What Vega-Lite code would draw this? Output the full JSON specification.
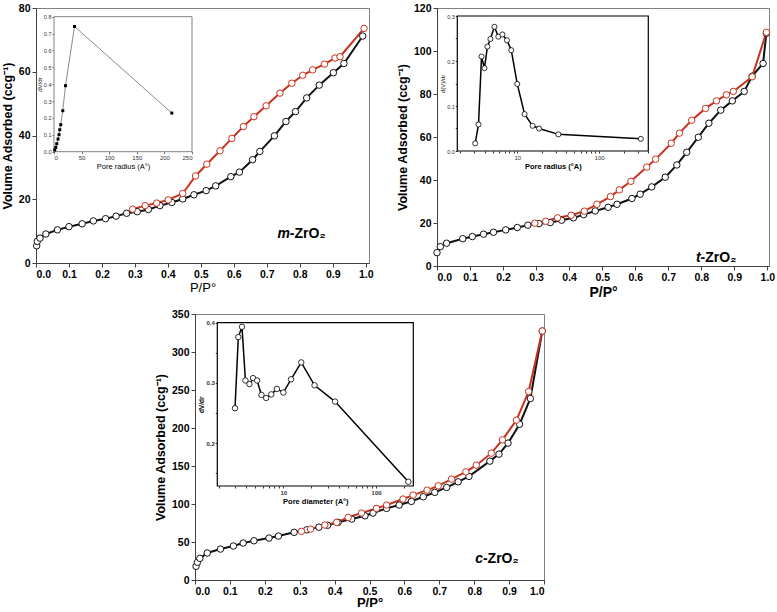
{
"$schema": "https://vega.github.io/schema/vega-lite/v6.json",
"padding": {"left": 0, "top": 2, "right": 0, "bottom": 0},
"background": "white",
"config": {
  "font": "Liberation Sans",
  "view": {"stroke": "#808080", "strokeWidth": 1},
  "axis": {"grid": false, "labelColor": "black", "titleColor": "black", "domainColor": "#404040", "tickColor": "#404040", "labelFontWeight": "bold", "labelFontSize": 10.5, "tickSize": 4, "labelPadding": 2, "labelOverlap": false}
},
"datasets": {
  "m_iso": [
    {"x":0.002,"y":5.4,"b":"ads"},{"x":0.004,"y":6.8,"b":"ads"},{"x":0.012,"y":7.8,"b":"ads"},{"x":0.030,"y":9.1,"b":"ads"},{"x":0.065,"y":10.4,"b":"ads"},{"x":0.100,"y":11.4,"b":"ads"},{"x":0.140,"y":12.3,"b":"ads"},{"x":0.174,"y":13.2,"b":"ads"},{"x":0.211,"y":13.9,"b":"ads"},{"x":0.243,"y":14.7,"b":"ads"},{"x":0.275,"y":15.6,"b":"ads"},{"x":0.307,"y":16.1,"b":"ads"},{"x":0.341,"y":16.8,"b":"ads"},{"x":0.376,"y":18.0,"b":"ads"},{"x":0.412,"y":19.0,"b":"ads"},{"x":0.445,"y":20.1,"b":"ads"},{"x":0.479,"y":21.4,"b":"ads"},{"x":0.516,"y":22.7,"b":"ads"},{"x":0.545,"y":24.2,"b":"ads"},{"x":0.591,"y":27.1,"b":"ads"},{"x":0.617,"y":28.5,"b":"ads"},{"x":0.657,"y":32.4,"b":"ads"},{"x":0.679,"y":35.0,"b":"ads"},{"x":0.723,"y":39.9,"b":"ads"},{"x":0.758,"y":44.4,"b":"ads"},{"x":0.787,"y":47.5,"b":"ads"},{"x":0.821,"y":51.8,"b":"ads"},{"x":0.859,"y":55.8,"b":"ads"},{"x":0.902,"y":59.7,"b":"ads"},{"x":0.934,"y":62.6,"b":"ads"},{"x":0.991,"y":71.2,"b":"ads"},
    {"x":0.293,"y":16.9,"b":"des"},{"x":0.331,"y":18.0,"b":"des"},{"x":0.366,"y":18.8,"b":"des"},{"x":0.401,"y":19.8,"b":"des"},{"x":0.445,"y":21.8,"b":"des"},{"x":0.484,"y":27.3,"b":"des"},{"x":0.518,"y":31.0,"b":"des"},{"x":0.558,"y":35.2,"b":"des"},{"x":0.594,"y":39.1,"b":"des"},{"x":0.629,"y":42.8,"b":"des"},{"x":0.661,"y":45.9,"b":"des"},{"x":0.698,"y":49.3,"b":"des"},{"x":0.740,"y":53.3,"b":"des"},{"x":0.776,"y":56.4,"b":"des"},{"x":0.809,"y":58.9,"b":"des"},{"x":0.839,"y":60.6,"b":"des"},{"x":0.875,"y":62.4,"b":"des"},{"x":0.907,"y":64.3,"b":"des"},{"x":0.922,"y":64.7,"b":"des"},{"x":0.995,"y":73.6,"b":"des"}
  ],
  "t_iso": [
    {"x":0.000,"y":6.2,"b":"ads"},{"x":0.010,"y":9.0,"b":"ads"},{"x":0.029,"y":10.6,"b":"ads"},{"x":0.078,"y":12.7,"b":"ads"},{"x":0.107,"y":13.7,"b":"ads"},{"x":0.141,"y":14.8,"b":"ads"},{"x":0.171,"y":15.7,"b":"ads"},{"x":0.208,"y":16.8,"b":"ads"},{"x":0.243,"y":17.9,"b":"ads"},{"x":0.275,"y":19.0,"b":"ads"},{"x":0.309,"y":19.7,"b":"ads"},{"x":0.343,"y":20.2,"b":"ads"},{"x":0.377,"y":21.3,"b":"ads"},{"x":0.413,"y":22.4,"b":"ads"},{"x":0.444,"y":23.9,"b":"ads"},{"x":0.479,"y":25.6,"b":"ads"},{"x":0.518,"y":27.3,"b":"ads"},{"x":0.545,"y":28.7,"b":"ads"},{"x":0.590,"y":31.4,"b":"ads"},{"x":0.615,"y":33.4,"b":"ads"},{"x":0.650,"y":36.8,"b":"ads"},{"x":0.691,"y":41.3,"b":"ads"},{"x":0.726,"y":47.0,"b":"ads"},{"x":0.756,"y":52.9,"b":"ads"},{"x":0.791,"y":59.9,"b":"ads"},{"x":0.823,"y":66.4,"b":"ads"},{"x":0.859,"y":72.5,"b":"ads"},{"x":0.894,"y":76.8,"b":"ads"},{"x":0.930,"y":81.2,"b":"ads"},{"x":0.954,"y":88.3,"b":"ads"},{"x":0.987,"y":94.2,"b":"ads"},{"x":0.997,"y":108.2,"b":"ads"},
    {"x":0.296,"y":19.9,"b":"des"},{"x":0.329,"y":20.8,"b":"des"},{"x":0.365,"y":22.4,"b":"des"},{"x":0.406,"y":23.6,"b":"des"},{"x":0.446,"y":25.5,"b":"des"},{"x":0.484,"y":28.7,"b":"des"},{"x":0.525,"y":32.3,"b":"des"},{"x":0.552,"y":35.4,"b":"des"},{"x":0.587,"y":39.4,"b":"des"},{"x":0.635,"y":46.0,"b":"des"},{"x":0.662,"y":49.7,"b":"des"},{"x":0.709,"y":57.1,"b":"des"},{"x":0.734,"y":61.8,"b":"des"},{"x":0.771,"y":67.8,"b":"des"},{"x":0.813,"y":73.3,"b":"des"},{"x":0.846,"y":76.8,"b":"des"},{"x":0.876,"y":79.6,"b":"des"},{"x":0.897,"y":81.2,"b":"des"},{"x":0.954,"y":88.0,"b":"des"},{"x":0.997,"y":108.7,"b":"des"}
  ],
  "c_iso": [
    {"x":0.003,"y":18.0,"b":"ads"},{"x":0.007,"y":23.3,"b":"ads"},{"x":0.014,"y":28.5,"b":"ads"},{"x":0.035,"y":35.5,"b":"ads"},{"x":0.073,"y":40.7,"b":"ads"},{"x":0.110,"y":44.7,"b":"ads"},{"x":0.138,"y":48.6,"b":"ads"},{"x":0.169,"y":51.6,"b":"ads"},{"x":0.212,"y":55.2,"b":"ads"},{"x":0.239,"y":57.8,"b":"ads"},{"x":0.284,"y":62.7,"b":"ads"},{"x":0.320,"y":66.0,"b":"ads"},{"x":0.355,"y":69.5,"b":"ads"},{"x":0.380,"y":72.0,"b":"ads"},{"x":0.410,"y":75.8,"b":"ads"},{"x":0.449,"y":80.2,"b":"ads"},{"x":0.487,"y":84.5,"b":"ads"},{"x":0.510,"y":88.1,"b":"ads"},{"x":0.549,"y":94.2,"b":"ads"},{"x":0.585,"y":98.6,"b":"ads"},{"x":0.620,"y":103.4,"b":"ads"},{"x":0.654,"y":109.5,"b":"ads"},{"x":0.687,"y":115.3,"b":"ads"},{"x":0.721,"y":121.8,"b":"ads"},{"x":0.754,"y":129.2,"b":"ads"},{"x":0.785,"y":136.3,"b":"ads"},{"x":0.845,"y":156.4,"b":"ads"},{"x":0.871,"y":165.6,"b":"ads"},{"x":0.897,"y":180.1,"b":"ads"},{"x":0.930,"y":205.0,"b":"ads"},{"x":0.961,"y":238.8,"b":"ads"},{"x":0.995,"y":327.6,"b":"ads"},
    {"x":0.305,"y":64.0,"b":"des"},{"x":0.331,"y":67.0,"b":"des"},{"x":0.372,"y":72.3,"b":"des"},{"x":0.406,"y":75.8,"b":"des"},{"x":0.439,"y":82.4,"b":"des"},{"x":0.477,"y":88.1,"b":"des"},{"x":0.520,"y":94.2,"b":"des"},{"x":0.549,"y":98.6,"b":"des"},{"x":0.596,"y":106.5,"b":"des"},{"x":0.625,"y":111.7,"b":"des"},{"x":0.665,"y":118.3,"b":"des"},{"x":0.697,"y":123.9,"b":"des"},{"x":0.735,"y":132.7,"b":"des"},{"x":0.776,"y":142.3,"b":"des"},{"x":0.806,"y":151.1,"b":"des"},{"x":0.849,"y":166.9,"b":"des"},{"x":0.881,"y":184.4,"b":"des"},{"x":0.921,"y":210.3,"b":"des"},{"x":0.956,"y":248.0,"b":"des"},{"x":0.995,"y":327.6,"b":"des"}
  ],
  "m_psd": [
    {"x":1.3,"y":0.010},{"x":3.1,"y":0.025},{"x":5.0,"y":0.047},{"x":7.3,"y":0.075},{"x":9.1,"y":0.101},{"x":10.4,"y":0.130},{"x":12.2,"y":0.160},{"x":15.9,"y":0.243},{"x":20.8,"y":0.391},{"x":37.2,"y":0.742},{"x":213.5,"y":0.229}
  ],
  "t_psd": [
    {"x":3.06,"y":0.017},{"x":3.36,"y":0.059},{"x":3.66,"y":0.210},{"x":3.97,"y":0.184},{"x":4.32,"y":0.232},{"x":4.70,"y":0.249},{"x":5.26,"y":0.276},{"x":5.87,"y":0.254},{"x":6.58,"y":0.259},{"x":7.48,"y":0.246},{"x":8.45,"y":0.224},{"x":10.0,"y":0.149},{"x":12.3,"y":0.082},{"x":15.4,"y":0.056},{"x":18.5,"y":0.050},{"x":31.8,"y":0.037},{"x":324,"y":0.027}
  ],
  "c_psd": [
    {"x":3.01,"y":0.258},{"x":3.27,"y":0.376},{"x":3.58,"y":0.393},{"x":3.90,"y":0.304},{"x":4.31,"y":0.298},{"x":4.72,"y":0.308},{"x":5.21,"y":0.304},{"x":5.81,"y":0.280},{"x":6.53,"y":0.275},{"x":7.41,"y":0.281},{"x":8.53,"y":0.290},{"x":10.0,"y":0.284},{"x":12.1,"y":0.306},{"x":15.6,"y":0.334},{"x":21.7,"y":0.296},{"x":36.1,"y":0.269},{"x":223,"y":0.136}
  ],
  "m_box": [{"x":0,"x2":250,"y":0,"y2":0.8}],
  "t_box": [{"x":1.85,"x2":400,"y":0,"y2":0.3}],
  "c_box": [{"x":1.94,"x2":252,"y":0.129,"y2":0.4}],
  "m_lbl": [{"x":0.770,"y":7.8,"a":"m","t":"-ZrO₂"}],
  "t_lbl": [{"x":0.798,"y":1.9,"a":"t","t":"-ZrO₂"}],
  "c_lbl": [{"x":0.825,"y":22.3,"a":"c","t":"-ZrO₂"}]
},
"vconcat": [
 {"hconcat": [
  {"width": 333, "height": 255,
   "layer": [
    {"layer": [
      {"data": {"name": "m_iso"}, "mark": {"type": "line", "strokeWidth": 2},
       "encoding": {
        "x": {"field": "x", "type": "quantitative", "scale": {"domain": [0, 1.01], "nice": false, "zero": false},
              "axis": {"title": "P/P°", "titleFontSize": 13, "titleFontWeight": "normal", "titlePadding": 2, "tickCount": 50, "values": [0,0.1,0.2,0.3,0.4,0.5,0.6,0.7,0.8,0.9,1.0], "format": ".1f"}},
        "y": {"field": "y", "type": "quantitative", "scale": {"domain": [0, 80], "nice": false},
              "axis": {"title": "Volume Adsorbed (ccg⁻¹)", "titleFontSize": 12.5, "titleFontWeight": "bold", "titlePadding": 4, "tickCount": 50, "values": [0,20,40,60,80]}},
        "color": {"field": "b", "type": "nominal", "scale": {"domain": ["ads","des"], "range": ["#111111","#c8321e"]}, "legend": null}
       }},
      {"data": {"name": "m_iso"}, "mark": {"type": "circle", "size": 42, "fill": "white", "fillOpacity": 1, "strokeWidth": 1},
       "encoding": {
        "x": {"field": "x", "type": "quantitative", "scale": {"domain": [0, 1.01], "nice": false, "zero": false}},
        "y": {"field": "y", "type": "quantitative", "scale": {"domain": [0, 80], "nice": false}},
        "stroke": {"field": "b", "type": "nominal", "scale": {"domain": ["ads","des"], "range": ["#111111","#c8321e"]}, "legend": null}
       }},
      {"data": {"name": "m_lbl"}, "mark": {"type": "text", "align": "right", "baseline": "alphabetic", "fontSize": 14, "fontWeight": "bold", "fontStyle": "italic"},
       "encoding": {
        "x": {"field": "x", "type": "quantitative", "scale": {"domain": [0, 1.01], "nice": false, "zero": false}},
        "y": {"field": "y", "type": "quantitative", "scale": {"domain": [0, 80], "nice": false}},
        "text": {"field": "a"}}},
      {"data": {"name": "m_lbl"}, "mark": {"type": "text", "align": "left", "baseline": "alphabetic", "fontSize": 14, "fontWeight": "bold"},
       "encoding": {
        "x": {"field": "x", "type": "quantitative", "scale": {"domain": [0, 1.01], "nice": false, "zero": false}},
        "y": {"field": "y", "type": "quantitative", "scale": {"domain": [0, 80], "nice": false}},
        "text": {"field": "t"}}}
    ]},
    {"layer": [
      {"data": {"name": "m_box"}, "mark": {"type": "rect", "fill": "white", "stroke": "#808080", "strokeWidth": 1},
       "encoding": {
        "x": {"field": "x", "type": "quantitative", "scale": {"domain": [0, 250], "range": [18, 156], "nice": false, "zero": false},
              "axis": {"orient": "bottom", "offset": -111.3, "domain": false, "tickCount": 50, "values": [0,50,100,150,200,250], "labelFontSize": 6, "labelFontWeight": "normal", "labelColor": "#333", "tickSize": 2, "tickColor": "#666", "labelPadding": 1, "title": "Pore radius (A°)", "titleFontSize": 7.5, "titleFontWeight": "normal", "titlePadding": 2}},
        "x2": {"field": "x2"},
        "y": {"field": "y", "type": "quantitative", "scale": {"domain": [0, 0.8], "range": [143.7, 8.7], "nice": false, "zero": false},
              "axis": {"orient": "left", "offset": -18, "domain": false, "tickCount": 50, "values": [0,0.1,0.2,0.3,0.4,0.5,0.6,0.7,0.8], "format": ".1f", "labelFontSize": 5.5, "labelFontWeight": "normal", "labelColor": "#333", "tickSize": 2, "tickColor": "#666", "labelPadding": 1, "title": "dV/dr", "titleFontSize": 6, "titleFontWeight": "normal", "titlePadding": 1}},
        "y2": {"field": "y2"}
       }},
      {"data": {"name": "m_psd"}, "mark": {"type": "line", "stroke": "#8a8a8a", "strokeWidth": 1},
       "encoding": {
        "x": {"field": "x", "type": "quantitative", "scale": {"domain": [0, 250], "range": [18, 156], "nice": false, "zero": false}},
        "y": {"field": "y", "type": "quantitative", "scale": {"domain": [0, 0.8], "range": [143.7, 8.7], "nice": false, "zero": false}}
       }},
      {"data": {"name": "m_psd"}, "mark": {"type": "square", "size": 9, "color": "black", "opacity": 1},
       "encoding": {
        "x": {"field": "x", "type": "quantitative", "scale": {"domain": [0, 250], "range": [18, 156], "nice": false, "zero": false}},
        "y": {"field": "y", "type": "quantitative", "scale": {"domain": [0, 0.8], "range": [143.7, 8.7], "nice": false, "zero": false}}
       }}
    ]}
   ],
   "resolve": {"scale": {"x": "independent", "y": "independent", "color": "independent", "stroke": "independent"}}
  },
  {"width": 332, "height": 258,
   "layer": [
    {"layer": [
      {"data": {"name": "t_iso"}, "mark": {"type": "line", "strokeWidth": 2},
       "encoding": {
        "x": {"field": "x", "type": "quantitative", "scale": {"domain": [0, 1.005], "nice": false, "zero": false},
              "axis": {"title": "P/P°", "titleFontSize": 14, "titleFontWeight": "bold", "titlePadding": 3, "tickCount": 50, "values": [0,0.1,0.2,0.3,0.4,0.5,0.6,0.7,0.8,0.9,1.0], "format": ".1f"}},
        "y": {"field": "y", "type": "quantitative", "scale": {"domain": [0, 120], "nice": false},
              "axis": {"title": "Volume Adsorbed (ccg⁻¹)", "titleFontSize": 12.5, "titleFontWeight": "bold", "titlePadding": 4, "tickCount": 50, "values": [0,20,40,60,80,100,120]}},
        "color": {"field": "b", "type": "nominal", "scale": {"domain": ["ads","des"], "range": ["#111111","#c8321e"]}, "legend": null}
       }},
      {"data": {"name": "t_iso"}, "mark": {"type": "circle", "size": 42, "fill": "white", "fillOpacity": 1, "strokeWidth": 1},
       "encoding": {
        "x": {"field": "x", "type": "quantitative", "scale": {"domain": [0, 1.005], "nice": false, "zero": false}},
        "y": {"field": "y", "type": "quantitative", "scale": {"domain": [0, 120], "nice": false}},
        "stroke": {"field": "b", "type": "nominal", "scale": {"domain": ["ads","des"], "range": ["#111111","#c8321e"]}, "legend": null}
       }},
      {"data": {"name": "t_lbl"}, "mark": {"type": "text", "align": "right", "baseline": "alphabetic", "fontSize": 14, "fontWeight": "bold", "fontStyle": "italic"},
       "encoding": {
        "x": {"field": "x", "type": "quantitative", "scale": {"domain": [0, 1.005], "nice": false, "zero": false}},
        "y": {"field": "y", "type": "quantitative", "scale": {"domain": [0, 120], "nice": false}},
        "text": {"field": "a"}}},
      {"data": {"name": "t_lbl"}, "mark": {"type": "text", "align": "left", "baseline": "alphabetic", "fontSize": 14, "fontWeight": "bold"},
       "encoding": {
        "x": {"field": "x", "type": "quantitative", "scale": {"domain": [0, 1.005], "nice": false, "zero": false}},
        "y": {"field": "y", "type": "quantitative", "scale": {"domain": [0, 120], "nice": false}},
        "text": {"field": "t"}}}
    ]},
    {"layer": [
      {"data": {"name": "t_box"}, "mark": {"type": "rect", "fill": "white", "stroke": "black", "strokeWidth": 1.2},
       "encoding": {
        "x": {"field": "x", "type": "quantitative", "scale": {"type": "log", "domain": [1.85, 400], "range": [20.3, 211.3], "nice": false},
              "axis": {"orient": "bottom", "offset": -115, "domain": false, "tickCount": 50, "values": [2,3,4,5,6,7,8,9,10,20,30,40,50,60,70,80,90,100,200,300,400], "labelExpr": "datum.value == 10 || datum.value == 100 ? datum.value : ''", "labelFontSize": 6, "labelFontWeight": "normal", "labelColor": "#333", "tickSize": 2, "tickColor": "#333", "labelPadding": 1, "title": "Pore radius (°A)", "titleFontSize": 7.5, "titleFontWeight": "bold", "titlePadding": 2}},
        "x2": {"field": "x2"},
        "y": {"field": "y", "type": "quantitative", "scale": {"domain": [0, 0.3], "range": [143, 8], "nice": false, "zero": false},
              "axis": {"orient": "left", "offset": -20.3, "domain": false, "tickCount": 50, "values": [0,0.05,0.1,0.15,0.2,0.25,0.3], "labelExpr": "(round(datum.value*100) % 10 == 0) ? format(datum.value, '.1f') : ''", "labelFontSize": 5.5, "labelFontWeight": "normal", "labelColor": "#333", "tickSize": 2, "tickColor": "#333", "labelPadding": 1, "title": "d(V)/dr", "titleFontSize": 6, "titleFontWeight": "normal", "titlePadding": 1}},
        "y2": {"field": "y2"}
       }},
      {"data": {"name": "t_psd"}, "mark": {"type": "line", "stroke": "black", "strokeWidth": 1.5},
       "encoding": {
        "x": {"field": "x", "type": "quantitative", "scale": {"type": "log", "domain": [1.85, 400], "range": [20.3, 211.3], "nice": false}},
        "y": {"field": "y", "type": "quantitative", "scale": {"domain": [0, 0.3], "range": [143, 8], "nice": false, "zero": false}}
       }},
      {"data": {"name": "t_psd"}, "mark": {"type": "circle", "size": 26, "fill": "white", "fillOpacity": 1, "stroke": "black", "strokeWidth": 0.8},
       "encoding": {
        "x": {"field": "x", "type": "quantitative", "scale": {"type": "log", "domain": [1.85, 400], "range": [20.3, 211.3], "nice": false}},
        "y": {"field": "y", "type": "quantitative", "scale": {"domain": [0, 0.3], "range": [143, 8], "nice": false, "zero": false}}
       }}
    ]}
   ],
   "resolve": {"scale": {"x": "independent", "y": "independent", "color": "independent", "stroke": "independent"}}
  }
 ], "spacing": 21},
 {"hconcat": [
  {"width": 117, "height": 10, "data": {"values": []}, "mark": "point", "view": {"stroke": null}},
  {"width": 349, "height": 266,
   "layer": [
    {"layer": [
      {"data": {"name": "c_iso"}, "mark": {"type": "line", "strokeWidth": 2},
       "encoding": {
        "x": {"field": "x", "type": "quantitative", "scale": {"domain": [0, 1.0], "nice": false, "zero": false},
              "axis": {"title": "P/P°", "titleFontSize": 13, "titleFontWeight": "bold", "titlePadding": 0, "tickCount": 50, "values": [0,0.1,0.2,0.3,0.4,0.5,0.6,0.7,0.8,0.9,1.0], "format": ".1f"}},
        "y": {"field": "y", "type": "quantitative", "scale": {"domain": [0, 350], "nice": false},
              "axis": {"title": "Volume Adsorbed (ccg⁻¹)", "titleFontSize": 12.5, "titleFontWeight": "bold", "titlePadding": 4, "tickCount": 50, "values": [0,50,100,150,200,250,300,350]}},
        "color": {"field": "b", "type": "nominal", "scale": {"domain": ["ads","des"], "range": ["#111111","#c8321e"]}, "legend": null}
       }},
      {"data": {"name": "c_iso"}, "mark": {"type": "circle", "size": 42, "fill": "white", "fillOpacity": 1, "strokeWidth": 1},
       "encoding": {
        "x": {"field": "x", "type": "quantitative", "scale": {"domain": [0, 1.0], "nice": false, "zero": false}},
        "y": {"field": "y", "type": "quantitative", "scale": {"domain": [0, 350], "nice": false}},
        "stroke": {"field": "b", "type": "nominal", "scale": {"domain": ["ads","des"], "range": ["#111111","#c8321e"]}, "legend": null}
       }},
      {"data": {"name": "c_lbl"}, "mark": {"type": "text", "align": "right", "baseline": "alphabetic", "fontSize": 14, "fontWeight": "bold", "fontStyle": "italic"},
       "encoding": {
        "x": {"field": "x", "type": "quantitative", "scale": {"domain": [0, 1.0], "nice": false, "zero": false}},
        "y": {"field": "y", "type": "quantitative", "scale": {"domain": [0, 350], "nice": false}},
        "text": {"field": "a"}}},
      {"data": {"name": "c_lbl"}, "mark": {"type": "text", "align": "left", "baseline": "alphabetic", "fontSize": 14, "fontWeight": "bold"},
       "encoding": {
        "x": {"field": "x", "type": "quantitative", "scale": {"domain": [0, 1.0], "nice": false, "zero": false}},
        "y": {"field": "y", "type": "quantitative", "scale": {"domain": [0, 350], "nice": false}},
        "text": {"field": "t"}}}
    ]},
    {"layer": [
      {"data": {"name": "c_box"}, "mark": {"type": "rect", "fill": "white", "stroke": "black", "strokeWidth": 1.2},
       "encoding": {
        "x": {"field": "x", "type": "quantitative", "scale": {"type": "log", "domain": [1.94, 252], "range": [22.3, 218.3], "nice": false},
              "axis": {"orient": "bottom", "offset": -94, "domain": false, "tickCount": 50, "values": [2,3,4,5,6,7,8,9,10,20,30,40,50,60,70,80,90,100,200], "labelExpr": "datum.value == 10 || datum.value == 100 ? datum.value : ''", "labelFontSize": 6, "labelFontWeight": "bold", "labelColor": "#333", "tickSize": 2, "tickColor": "#333", "labelPadding": 1, "title": "Pore diameter (A°)", "titleFontSize": 7.5, "titleFontWeight": "bold", "titlePadding": 2}},
        "x2": {"field": "x2"},
        "y": {"field": "y", "type": "quantitative", "scale": {"domain": [0.129, 0.4], "range": [172, 8.6], "nice": false, "zero": false},
              "axis": {"orient": "left", "offset": -22.3, "domain": false, "tickCount": 50, "values": [0.15,0.2,0.25,0.3,0.35,0.4], "labelExpr": "(round(datum.value*100) % 10 == 0) ? format(datum.value, '.1f') : ''", "labelFontSize": 6, "labelFontWeight": "bold", "labelColor": "#333", "tickSize": 2, "tickColor": "#333", "labelPadding": 1, "title": "dV/dr", "titleFontSize": 6.5, "titleFontWeight": "bold", "titlePadding": 1}},
        "y2": {"field": "y2"}
       }},
      {"data": {"name": "c_psd"}, "mark": {"type": "line", "stroke": "black", "strokeWidth": 1.5},
       "encoding": {
        "x": {"field": "x", "type": "quantitative", "scale": {"type": "log", "domain": [1.94, 252], "range": [22.3, 218.3], "nice": false}},
        "y": {"field": "y", "type": "quantitative", "scale": {"domain": [0.129, 0.4], "range": [172, 8.6], "nice": false, "zero": false}}
       }},
      {"data": {"name": "c_psd"}, "mark": {"type": "circle", "size": 30, "fill": "white", "fillOpacity": 1, "stroke": "black", "strokeWidth": 0.8},
       "encoding": {
        "x": {"field": "x", "type": "quantitative", "scale": {"type": "log", "domain": [1.94, 252], "range": [22.3, 218.3], "nice": false}},
        "y": {"field": "y", "type": "quantitative", "scale": {"domain": [0.129, 0.4], "range": [172, 8.6], "nice": false, "zero": false}}
       }}
    ]}
   ],
   "resolve": {"scale": {"x": "independent", "y": "independent", "color": "independent", "stroke": "independent"}}
  }
 ], "spacing": 0}
], "spacing": 8
}
